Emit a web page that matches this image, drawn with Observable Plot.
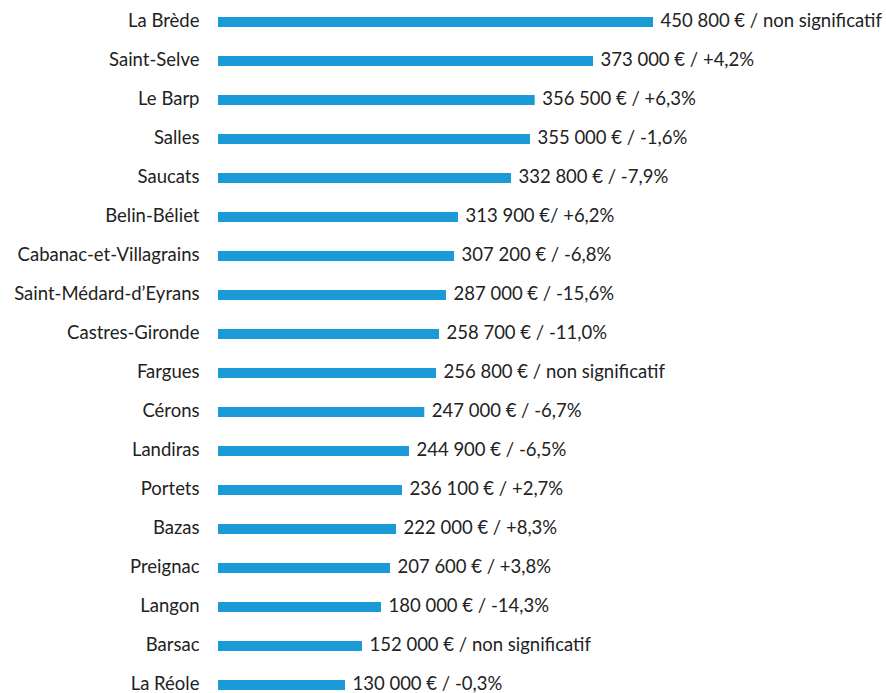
<!DOCTYPE html>
<html>
<head>
<meta charset="utf-8">
<script src="https://cdn.jsdelivr.net/npm/d3@7"></script>
<script src="https://cdn.jsdelivr.net/npm/@observablehq/plot@0.6"></script>
<style>
  html, body { margin: 0; padding: 0; background: #fff; }
</style>
</head>
<body>
<div id="chart"></div>
<script>
const communes = ["La Brède", "Saint-Selve", "Le Barp", "Salles", "Saucats", "Belin-Béliet",
  "Cabanac-et-Villagrains", "Saint-Médard-d’Eyrans", "Castres-Gironde", "Fargues", "Cérons",
  "Landiras", "Portets", "Bazas", "Preignac", "Langon", "Barsac", "La Réole"];
// bar lengths as drawn in the picture (euro-equivalent on the bar scale)
const barValues = [450800, 388600, 328200, 323300, 303600, 248700, 244600, 236300, 229000,
  225900, 213800, 197900, 190700, 184500, 178200, 168900, 149200, 131600];
const valueLabels = ["450 800 € / non significatif", "373 000 € / +4,2%", "356 500 € / +6,3%",
  "355 000 € / -1,6%", "332 800 € / -7,9%", "313 900 €/ +6,2%", "307 200 € / -6,8%",
  "287 000 € / -15,6%", "258 700 € / -11,0%", "256 800 € / non significatif", "247 000 € / -6,7%",
  "244 900 € / -6,5%", "236 100 € / +2,7%", "222 000 € / +8,3%", "207 600 € / +3,8%",
  "180 000 € / -14,3%", "152 000 € / non significatif", "130 000 € / -0,3%"];

const data = communes.map((c, i) => ({commune: c, value: barValues[i], label: valueLabels[i]}));

const chart = Plot.plot({
  width: 886,
  height: 693,
  marginLeft: 218,
  marginRight: 233,
  marginTop: 16,
  marginBottom: 2,
  style: {fontFamily: "Lato, 'Noto Sans', sans-serif", fontSize: "18.5px", color: "#222", background: "#fff", overflow: "visible"},
  x: {domain: [0, 450800], axis: null},
  y: {domain: communes, paddingInner: 0.74, paddingOuter: 0, label: null},
  marks: [
    Plot.barX(data, {x: "value", y: "commune", fill: "#1a9ad6"}),
    Plot.text(data, {x: "value", y: "commune", text: "label", textAnchor: "start", dx: 7, dy: -1, fill: "#222"}),
    Plot.axisY({tickSize: 0, tickPadding: 19, dy: -1, label: null})
  ]
});
document.getElementById("chart").appendChild(chart);
</script>
</body>
</html>
